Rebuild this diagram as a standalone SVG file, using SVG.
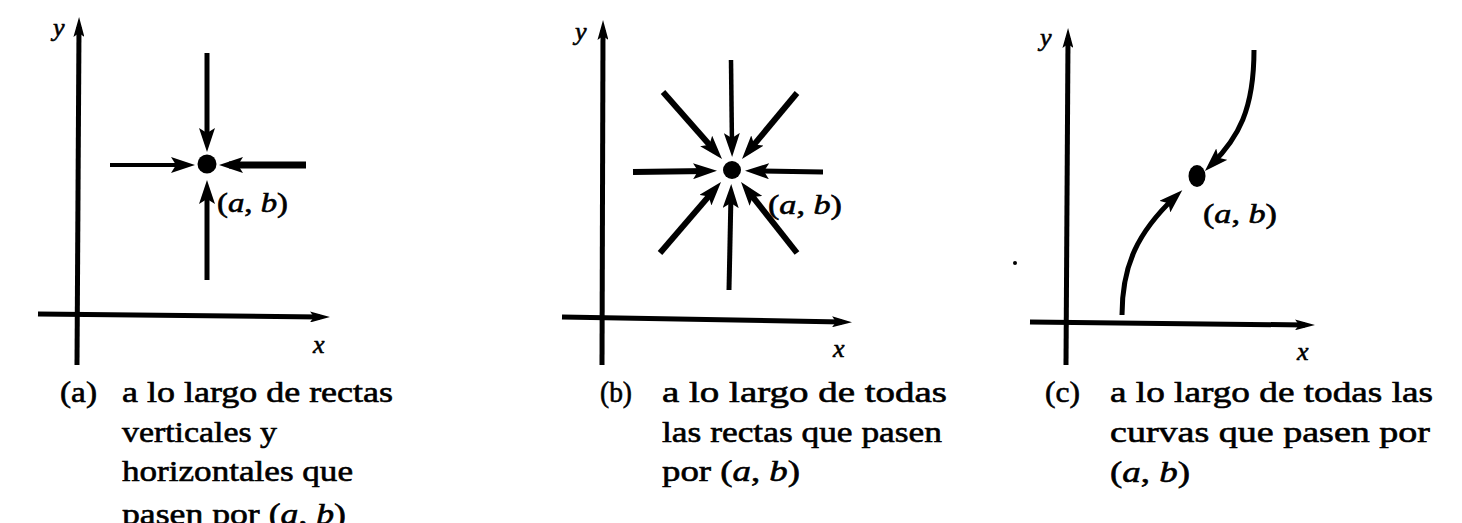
<svg xmlns="http://www.w3.org/2000/svg" width="1462" height="523" viewBox="0 0 1462 523">
<style>
  .ax { stroke: #000; stroke-width: 5; fill: none; marker-end: url(#axhead); }
  .ar { stroke: #000; stroke-width: 5; fill: none; marker-end: url(#head); }
  .dot { fill: #000; }
  text { font-family: "Liberation Serif", "Times New Roman", serif; fill: #000; stroke: #000; stroke-width: 0.6; }
  .cap { font-size: 30px; }
  .lbl { font-size: 28px; }
  .axl { font-size: 26px; font-style: italic; }
  .it { font-style: italic; }
</style>
<defs>
  <marker id="head" markerUnits="userSpaceOnUse" viewBox="0 0 24 16" markerWidth="24" markerHeight="16" refX="14" refY="8" orient="auto">
    <path d="M0,0 L24,8 L0,16 L5,8 Z" fill="#000"/>
  </marker>
  <marker id="axhead" markerUnits="userSpaceOnUse" viewBox="0 0 20 11" markerWidth="20" markerHeight="11" refX="10" refY="5.5" orient="auto">
    <path d="M0,0 L20,5.5 L0,11 L4,5.5 Z" fill="#000"/>
  </marker>
</defs>

<g id="panel-a">
  <g id="axes-a">
    <line class="ax" x1="77" y1="365" x2="79" y2="27"/>
    <line class="ax" x1="38" y1="314" x2="320" y2="317"/>
    <text class="axl" x="53" y="36">y</text>
    <text class="axl" x="313" y="353">x</text>
  </g>
  <g id="point-a">
    <circle class="dot" cx="207" cy="164" r="9.5"/>
    <text class="lbl" x="217" y="212" textLength="71" lengthAdjust="spacingAndGlyphs">(<tspan class="it">a</tspan>, <tspan class="it">b</tspan>)</text>
  </g>
  <g id="connectors-a">
    <line class="ar" x1="207" y1="53" x2="207" y2="142"/>
    <line class="ar" x1="207" y1="280" x2="207" y2="190"/>
    <line class="ar" style="stroke-width:4" x1="110" y1="165" x2="185" y2="165"/>
    <line class="ar" style="stroke-width:7" x1="306" y1="165" x2="229" y2="165"/>
  </g>
  <g id="caption-a">
    <text class="cap" x="60" y="402" textLength="37" lengthAdjust="spacingAndGlyphs">(a)</text>
    <text class="cap" x="122" y="402" textLength="271" lengthAdjust="spacingAndGlyphs">a lo largo de rectas</text>
    <text class="cap" x="122" y="442" textLength="155" lengthAdjust="spacingAndGlyphs">verticales y</text>
    <text class="cap" x="122" y="481" textLength="231" lengthAdjust="spacingAndGlyphs">horizontales que</text>
    <text class="cap" x="122" y="524" textLength="224" lengthAdjust="spacingAndGlyphs">pasen por (<tspan class="it">a</tspan>, <tspan class="it">b</tspan>)</text>
  </g>
</g>

<g id="panel-b">
  <g id="axes-b">
    <line class="ax" x1="602" y1="365" x2="603" y2="30"/>
    <line class="ax" x1="562" y1="317" x2="842" y2="322"/>
    <text class="axl" x="575" y="40">y</text>
    <text class="axl" x="833" y="357">x</text>
  </g>
  <g id="point-b">
    <circle class="dot" cx="732" cy="170" r="9"/>
    <text class="lbl" x="768" y="214" textLength="74" lengthAdjust="spacingAndGlyphs">(<tspan class="it">a</tspan>, <tspan class="it">b</tspan>)</text>
  </g>
  <g id="connectors-b">
    <line class="ar" style="stroke-width:4.5" x1="731" y1="60" x2="732" y2="147"/>
    <line class="ar" x1="729" y1="290" x2="731" y2="194"/>
    <line class="ar" style="stroke-width:6" x1="633" y1="172" x2="707" y2="171"/>
    <line class="ar" x1="823" y1="172" x2="755" y2="171"/>
    <line class="ar" style="stroke-width:6" x1="663" y1="92" x2="715.4" y2="151.5"/>
    <line class="ar" style="stroke-width:6" x1="797" y1="93" x2="748.4" y2="151.3"/>
    <line class="ar" style="stroke-width:6" x1="660" y1="253" x2="714.5" y2="189.6"/>
    <line class="ar" style="stroke-width:6" x1="797" y1="253" x2="747.2" y2="189.9"/>
  </g>
  <g id="caption-b">
    <text class="cap" x="600" y="402" textLength="32" lengthAdjust="spacingAndGlyphs">(b)</text>
    <text class="cap" x="662" y="402" textLength="285" lengthAdjust="spacingAndGlyphs">a lo largo de todas</text>
    <text class="cap" x="662" y="442" textLength="280" lengthAdjust="spacingAndGlyphs">las rectas que pasen</text>
    <text class="cap" x="662" y="481" textLength="138" lengthAdjust="spacingAndGlyphs">por (<tspan class="it">a</tspan>, <tspan class="it">b</tspan>)</text>
  </g>
</g>

<g id="panel-c">
  <g id="axes-c">
    <line class="ax" x1="1066" y1="365" x2="1068" y2="38"/>
    <line class="ax" x1="1030" y1="322" x2="1305" y2="325"/>
    <text class="axl" x="1040" y="46">y</text>
    <text class="axl" x="1297" y="360">x</text>
    <circle class="dot" cx="1015" cy="263" r="2"/>
  </g>
  <g id="point-c">
    <ellipse class="dot" cx="1197" cy="176" rx="8.5" ry="11"/>
    <text class="lbl" x="1203" y="223" textLength="74" lengthAdjust="spacingAndGlyphs">(<tspan class="it">a</tspan>, <tspan class="it">b</tspan>)</text>
  </g>
  <g id="connectors-c">
    <path class="ar" d="M1254,50 C1254,110 1238,138 1212,164"/>
    <path class="ar" d="M1122,315 C1122,265 1138,232 1175,197"/>
  </g>
  <g id="caption-c">
    <text class="cap" x="1045" y="402" textLength="35" lengthAdjust="spacingAndGlyphs">(c)</text>
    <text class="cap" x="1110" y="402" textLength="323" lengthAdjust="spacingAndGlyphs">a lo largo de todas las</text>
    <text class="cap" x="1110" y="442" textLength="320" lengthAdjust="spacingAndGlyphs">curvas que pasen por</text>
    <text class="cap" x="1110" y="482" textLength="80" lengthAdjust="spacingAndGlyphs">(<tspan class="it">a</tspan>, <tspan class="it">b</tspan>)</text>
  </g>
</g>
</svg>
